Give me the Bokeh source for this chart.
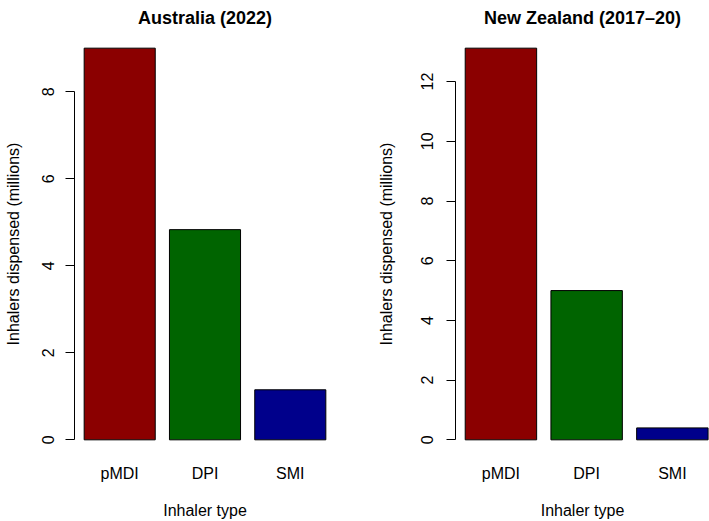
from bokeh.plotting import figure
from bokeh.models import Range1d, FixedTicker, ColumnDataSource
from bokeh.layouts import row
from bokeh.embed import file_html
from bokeh.resources import INLINE

# ---- data ----
inhaler_types = ["pMDI", "DPI", "SMI"]
bar_colors = ["#8B0000", "#006400", "#00008B"]
australia_values = [9.0, 4.83, 1.15]
nz_values = [13.12, 5.0, 0.40]
australia_ticks = [0, 2, 4, 6, 8]
nz_ticks = [0, 2, 4, 6, 8, 10, 12]
panel_titles = ["Australia (2022)", "New Zealand (2017\u201320)"]
x_label = "Inhaler type"
y_label = "Inhalers dispensed (millions)"

FONT = "Liberation Sans"

# R barplot geometry: width 1, space 0.2
BAR_W = 1.0
SPACE = 0.2
mids = [SPACE + BAR_W / 2 + i * (BAR_W + SPACE) for i in range(len(inhaler_types))]
span = len(inhaler_types) * (BAR_W + SPACE)
x_lo = SPACE - 0.04 * (span - SPACE)
x_hi = span + 0.04 * (span - SPACE)


def make_panel(title, values, ticks, width, b_left, b_right, x_end,
               tick_standoff, ylab_standoff):
    ymax = max(values)
    p = figure(width=width, height=521,
               x_range=Range1d(x_lo, x_end),
               y_range=Range1d(-0.04 * ymax, 1.04 * ymax),
               output_backend="svg", toolbar_location=None,
               min_border_left=b_left, min_border_right=b_right,
               min_border_top=32, min_border_bottom=66,
               title=title)
    src = ColumnDataSource(dict(x=mids, top=values, color=bar_colors))
    p.vbar(x="x", top="top", bottom=0, width=BAR_W, source=src,
           fill_color="color", line_color="black", line_width=1)

    p.xgrid.visible = False
    p.ygrid.visible = False
    p.outline_line_color = None
    p.background_fill_color = "white"
    p.border_fill_color = "white"

    p.title.text_font = FONT
    p.title.text_font_size = "18px"
    p.title.text_font_style = "bold"
    p.title.text_color = "black"
    p.title.align = "center"
    p.title.standoff = 10

    xa = p.xaxis[0]
    xa.ticker = FixedTicker(ticks=mids)
    xa.major_label_overrides = {m: t for m, t in zip(mids, inhaler_types)}
    xa.axis_line_color = None
    xa.major_tick_line_color = None
    xa.minor_tick_line_color = None
    xa.major_tick_out = 0
    xa.major_tick_in = 0
    xa.major_label_standoff = 9
    xa.major_label_text_font = FONT
    xa.major_label_text_font_size = "16px"
    xa.major_label_text_color = "black"
    xa.axis_label = x_label
    xa.axis_label_standoff = 17
    xa.axis_label_text_font = FONT
    xa.axis_label_text_font_size = "16px"
    xa.axis_label_text_font_style = "normal"
    xa.axis_label_text_color = "black"

    ya = p.yaxis[0]
    ya.ticker = FixedTicker(ticks=ticks)
    ya.bounds = (ticks[0], ticks[-1])
    ya.axis_line_color = "black"
    ya.major_tick_line_color = "black"
    ya.minor_tick_line_color = None
    ya.major_tick_in = 0
    ya.major_tick_out = 9
    ya.major_label_orientation = "vertical"
    ya.major_label_standoff = tick_standoff
    ya.major_label_text_font = FONT
    ya.major_label_text_font_size = "16px"
    ya.major_label_text_color = "black"
    ya.axis_label = y_label
    ya.axis_label_standoff = ylab_standoff
    ya.axis_label_text_font = FONT
    ya.axis_label_text_font_size = "16px"
    ya.axis_label_text_font_style = "normal"
    ya.axis_label_text_color = "black"
    return p


p1 = make_panel(panel_titles[0], australia_values, australia_ticks,
                362, 74, 27, x_hi, 11, 18)
p2 = make_panel(panel_titles[1], nz_values, nz_ticks,
                347, 93, 0, 3.62, 13, 24)

layout = row(p1, p2)
open("out.html", "w").write(file_html(layout, INLINE))
